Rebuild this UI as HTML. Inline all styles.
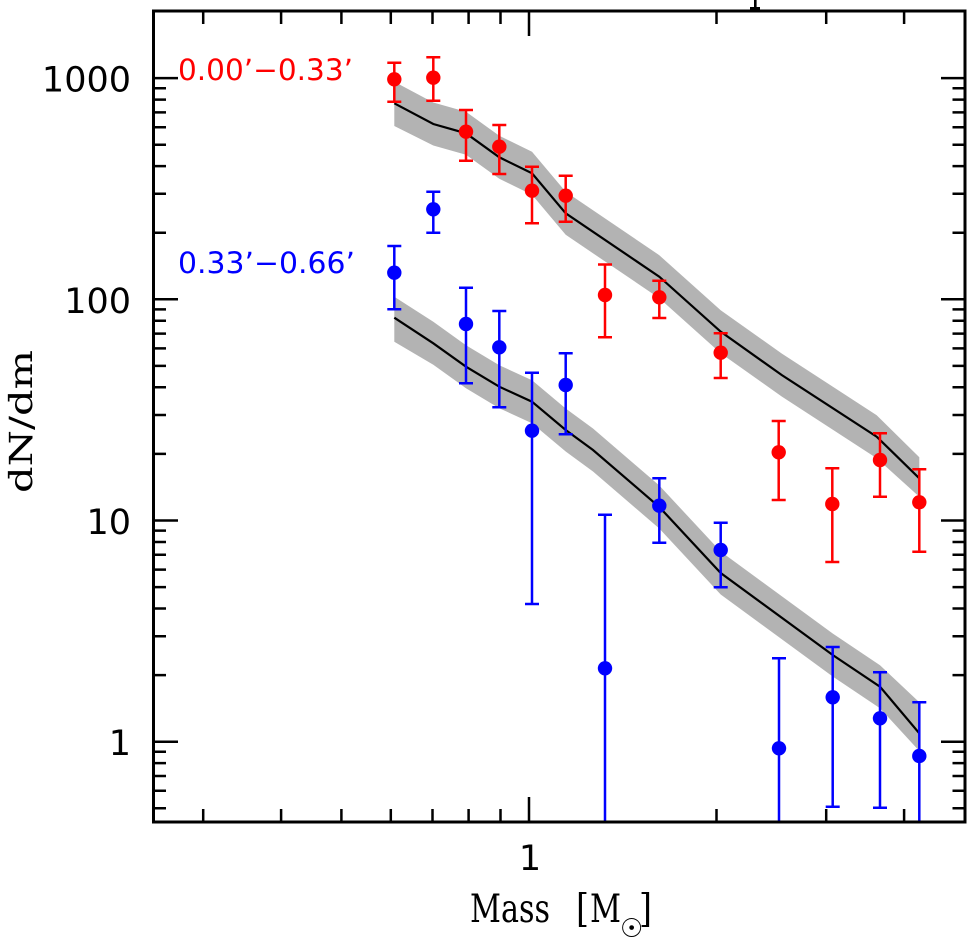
<!DOCTYPE html>
<html><head><meta charset="utf-8"><style>
html,body{margin:0;padding:0;background:#fff;}
svg{display:block;}
</style></head><body>
<svg width="978" height="938" viewBox="0 0 978 938" xmlns="http://www.w3.org/2000/svg">
<rect width="978" height="938" fill="#fff"/>
<!-- cut-off title stub -->
<rect x="754" y="0" width="2.6" height="9" fill="#000"/>
<rect x="750" y="7" width="10" height="3" fill="#000"/>

<!-- bands -->
<polygon fill="#b3b3b3" points="394.3,81.7 433.3,102.5 466,111.8 499.3,135.8 532,151.8 565.7,191.8 659.3,255.2 720.7,310.2 781.7,353.5 876.7,415.2 919.3,457.3 919.3,496.7 876.7,458.2 781.7,396.5 720.7,353.2 659.3,298.2 565.7,234.8 532,194.8 499.3,178.8 466,154.8 433.3,145.5 394.3,126"/>
<polygon fill="#b3b3b3" points="394.3,296.7 433.3,321.8 466,345.2 499.3,365.2 532,380.2 565.7,408.5 593,428.5 659.3,485.5 720.7,551.5 832.7,633.5 880,665.2 919.3,702.3 919.3,751 880,708.2 832.7,676.5 720.7,594.5 659.3,528.5 593,471.5 565.7,451.5 532,423.2 499.3,408.2 466,388.2 433.3,364.8 394.3,341.7"/>
<!-- model lines -->
<polyline fill="none" stroke="#000" stroke-width="2.2" points="394.3,103.3 433.3,124 466,133.3 499.3,157.3 532,173.3 565.7,213.3 659.3,276.7 720.7,331.7 781.7,375 876.7,436.7 919.3,478.3"/>
<polyline fill="none" stroke="#000" stroke-width="2.2" points="394.3,317.7 433.3,343.3 466,366.7 499.3,386.7 532,401.7 565.7,430 593,450 659.3,507 720.7,573 832.7,655 880,686.7 919.3,733.3"/>

<!-- red error bars -->
<g stroke="#ff0000" stroke-width="2.5" fill="none">
<path d="M394.3,62.7V101.7M387.3,62.7H401.3M387.3,101.7H401.3"/>
<path d="M433.3,57.3V100.7M426.3,57.3H440.3M426.3,100.7H440.3"/>
<path d="M466,110V160.7M459,110H473M459,160.7H473"/>
<path d="M499.3,125V174M492.3,125H506.3M492.3,174H506.3"/>
<path d="M532,166.7V223.3M525,166.7H539M525,223.3H539"/>
<path d="M565.7,175.7V221.7M558.7,175.7H572.7M558.7,221.7H572.7"/>
<path d="M605,264.5V337.3M598,264.5H612M598,337.3H612"/>
<path d="M659.3,280.7V318M652.3,280.7H666.3M652.3,318H666.3"/>
<path d="M720.7,333.3V378M713.7,333.3H727.7M713.7,378H727.7"/>
<path d="M778.7,421V500M771.7,421H785.7M771.7,500H785.7"/>
<path d="M832.3,468.3V562M825.3,468.3H839.3M825.3,562H839.3"/>
<path d="M880,433.3V496.7M873,433.3H887M873,496.7H887"/>
<path d="M919.3,469.3V551.7M912.3,469.3H926.3M912.3,551.7H926.3"/>
</g>
<g fill="#ff0000">
<circle cx="394.3" cy="79.3" r="7.2"/><circle cx="433.3" cy="77.7" r="7.2"/>
<circle cx="466" cy="131.7" r="7.2"/><circle cx="499.3" cy="146.7" r="7.2"/>
<circle cx="532" cy="190.7" r="7.2"/><circle cx="565.7" cy="195.7" r="7.2"/>
<circle cx="605" cy="295" r="7.2"/><circle cx="659.3" cy="297.3" r="7.2"/>
<circle cx="720.7" cy="352.7" r="7.2"/><circle cx="778.7" cy="452.3" r="7.2"/>
<circle cx="832.3" cy="504" r="7.2"/><circle cx="880" cy="460" r="7.2"/>
<circle cx="919.3" cy="502.3" r="7.2"/>
</g>

<!-- blue error bars -->
<g stroke="#0000ff" stroke-width="2.5" fill="none">
<path d="M394.3,246V309.3M387.3,246H401.3M387.3,309.3H401.3"/>
<path d="M433.3,191.7V232.7M426.3,191.7H440.3M426.3,232.7H440.3"/>
<path d="M466,287.7V383.3M459,287.7H473M459,383.3H473"/>
<path d="M499.3,311V407.3M492.3,311H506.3M492.3,407.3H506.3"/>
<path d="M532,372.7V604M525,372.7H539M525,604H539"/>
<path d="M565.7,353.3V434.3M558.7,353.3H572.7M558.7,434.3H572.7"/>
<path d="M605,514.7V822M598,514.7H612"/>
<path d="M659.3,478.3V542.7M652.3,478.3H666.3M652.3,542.7H666.3"/>
<path d="M720.7,522.7V587.3M713.7,522.7H727.7M713.7,587.3H727.7"/>
<path d="M779,658.3V822M772,658.3H786"/>
<path d="M832.7,647V806.7M825.7,647H839.7M825.7,806.7H839.7"/>
<path d="M880,672.3V807.7M873,672.3H887M873,807.7H887"/>
<path d="M919.3,702.3V822M912.3,702.3H926.3"/>
</g>
<g fill="#0000ff">
<circle cx="394.3" cy="272.7" r="7.2"/><circle cx="433.3" cy="209.3" r="7.2"/>
<circle cx="466" cy="324" r="7.2"/><circle cx="499.3" cy="347.3" r="7.2"/>
<circle cx="532" cy="430.7" r="7.2"/><circle cx="565.7" cy="385" r="7.2"/>
<circle cx="605" cy="668.3" r="7.2"/><circle cx="659.3" cy="505.7" r="7.2"/>
<circle cx="720.7" cy="550" r="7.2"/><circle cx="779" cy="748.3" r="7.2"/>
<circle cx="832.7" cy="697.3" r="7.2"/><circle cx="880" cy="718.3" r="7.2"/>
<circle cx="919.3" cy="756" r="7.2"/>
</g>

<!-- frame -->
<rect x="153.5" y="11" width="811.5" height="811" fill="none" stroke="#000" stroke-width="3"/>

<!-- y ticks -->
<g stroke="#000" stroke-width="2.5">
<path d="M153.5,808.3H166M153.5,790.8H166M153.5,776H166M153.5,763.1H166M153.5,751.8H166M153.5,741.7H178
M153.5,675.1H166M153.5,636.2H166M153.5,608.5H166M153.5,587.1H166M153.5,569.6H166M153.5,554.8H166M153.5,542H166M153.5,530.6H166M153.5,520.5H178
M153.5,453.9H166M153.5,415H166M153.5,387.3H166M153.5,365.9H166M153.5,348.4H166M153.5,333.6H166M153.5,320.8H166M153.5,309.4H166M153.5,299.3H178
M153.5,232.7H166M153.5,193.8H166M153.5,166.1H166M153.5,144.7H166M153.5,127.2H166M153.5,112.4H166M153.5,99.6H166M153.5,88.2H166M153.5,78.1H178"/>
<path d="M965,808.3H952.5M965,790.8H952.5M965,776H952.5M965,763.1H952.5M965,751.8H952.5M965,741.7H941
M965,675.1H952.5M965,636.2H952.5M965,608.5H952.5M965,587.1H952.5M965,569.6H952.5M965,554.8H952.5M965,542H952.5M965,530.6H952.5M965,520.5H941
M965,453.9H952.5M965,415H952.5M965,387.3H952.5M965,365.9H952.5M965,348.4H952.5M965,333.6H952.5M965,320.8H952.5M965,309.4H952.5M965,299.3H941
M965,232.7H952.5M965,193.8H952.5M965,166.1H952.5M965,144.7H952.5M965,127.2H952.5M965,112.4H952.5M965,99.6H952.5M965,88.2H952.5M965,78.1H941"/>
<!-- x ticks -->
<path d="M203.2,822V809M281.1,822V809M341.4,822V809M390.8,822V809M432.5,822V809M468.6,822V809M500.5,822V809M529,822V797M716.5,822V809M826.2,822V809M904.1,822V809"/>
<path d="M203.2,11V24M281.1,11V24M341.4,11V24M390.8,11V24M432.5,11V24M468.6,11V24M500.5,11V24M529,11V36M716.5,11V24M826.2,11V24M904.1,11V24"/>
</g>

<!-- tick labels -->
<g font-family="'DejaVu Sans', 'Liberation Sans', sans-serif" font-size="35" fill="#000" text-anchor="end">
<text x="131" y="91.6">1000</text>
<text x="131" y="312.8">100</text>
<text x="131" y="534">10</text>
<text x="131" y="755.2">1</text>
</g>
<text x="530" y="870" font-family="'DejaVu Sans', 'Liberation Sans', sans-serif" font-size="35" text-anchor="middle" fill="#000">1</text>

<!-- legend labels -->
<text x="178" y="80" font-family="'DejaVu Sans', 'Liberation Sans', sans-serif" font-size="29" fill="#ff0000" textLength="175" lengthAdjust="spacingAndGlyphs">0.00’−0.33’</text>
<text x="178" y="273" font-family="'DejaVu Sans', 'Liberation Sans', sans-serif" font-size="29" fill="#0000ff" textLength="177" lengthAdjust="spacingAndGlyphs">0.33’−0.66’</text>

<!-- axis titles -->
<text transform="translate(32,421.5) rotate(-90)" font-family="'DejaVu Serif', 'Liberation Serif', serif" font-size="32" text-anchor="middle" fill="#000" textLength="143" lengthAdjust="spacingAndGlyphs">dN/dm</text>
<g font-family="'DejaVu Serif', 'Liberation Serif', serif" font-size="39" fill="#000">
<text x="470" y="922" textLength="80" lengthAdjust="spacingAndGlyphs">Mass</text>
<text x="576" y="922" textLength="13" lengthAdjust="spacingAndGlyphs">[</text>
<text x="590" y="922" textLength="31" lengthAdjust="spacingAndGlyphs">M</text>
<text x="639" y="922" textLength="13" lengthAdjust="spacingAndGlyphs">]</text>
</g>
<text x="620" y="937" font-family="'DejaVu Sans', sans-serif" font-size="26" fill="#000">☉</text>
</svg>
</body></html>
